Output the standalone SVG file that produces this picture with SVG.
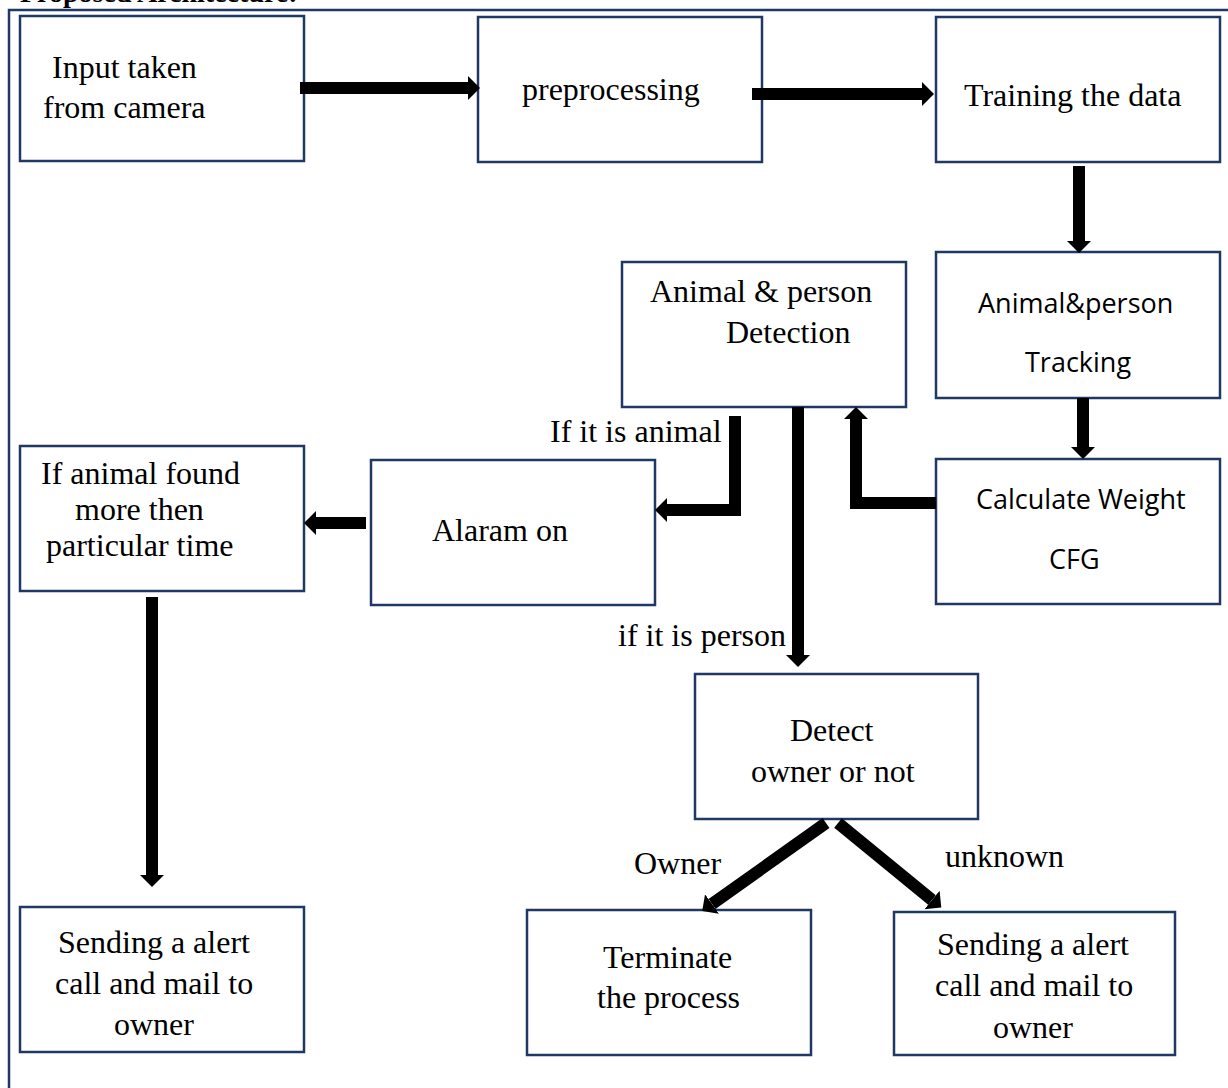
<svg xmlns="http://www.w3.org/2000/svg" width="1228" height="1088" viewBox="0 0 1228 1088">
<style>
.box{fill:#ffffff;stroke:#1f3864;stroke-width:2.5}
.t{font-family:"Liberation Serif","Times New Roman",serif;font-size:32px;fill:#000}
.s{font-family:"Open Sans","Liberation Sans",sans-serif;font-size:27px;fill:#000}
.c{fill:none;stroke:#000;stroke-width:12;stroke-linejoin:miter;stroke-linecap:butt}
</style>
<defs>
<marker id="ah" markerUnits="userSpaceOnUse" markerWidth="14" markerHeight="26" refX="0" refY="12" orient="auto" viewBox="0 0 14 24">
<path d="M0,0 L12,12 L0,24 Z" fill="#000"/>
</marker>
</defs>
<rect width="1228" height="1088" fill="#ffffff"/>
<text x="20" y="2" font-family="Liberation Serif, serif" font-weight="bold" font-size="28">Proposed Architecture:</text>
<path d="M9,1088 V10 H1228" fill="none" stroke="#1f3864" stroke-width="2.5"/>

<g id="n1"><rect class="box" x="20" y="16" width="284" height="145"/><text class="t" x="52" y="78">Input taken</text><text class="t" x="43" y="118">from camera</text></g>
<g id="n2"><rect class="box" x="478" y="17" width="284" height="145"/><text class="t" x="522" y="100">preprocessing</text></g>
<g id="n3"><rect class="box" x="936" y="17" width="284" height="145"/><text class="t" x="964" y="106">Training the data</text></g>
<g id="n4"><rect class="box" x="936" y="252" width="284" height="146"/><text class="s" x="978" y="313">Animal&amp;person</text><text class="s" x="1025" y="372">Tracking</text></g>
<g id="n5"><rect class="box" x="622" y="262" width="284" height="145"/><text class="t" x="650" y="302">Animal &amp; person</text><text class="t" x="726" y="343">Detection</text></g>
<g id="n6"><rect class="box" x="936" y="459" width="284" height="145"/><text class="s" x="976" y="509">Calculate Weight</text><text class="s" x="1049" y="569">CFG</text></g>
<g id="n7"><rect class="box" x="371" y="460" width="284" height="145"/><text class="t" x="432" y="541">Alaram on</text></g>
<g id="n8"><rect class="box" x="20" y="446" width="284" height="145"/><text class="t" x="41" y="484">If animal found</text><text class="t" x="75" y="520">more then</text><text class="t" x="46" y="556">particular time</text></g>
<g id="n9"><rect class="box" x="695" y="674" width="283" height="145"/><text class="t" x="790" y="741">Detect</text><text class="t" x="751" y="782">owner or not</text></g>
<g id="n10"><rect class="box" x="20" y="907" width="284" height="145"/><text class="t" x="58" y="953">Sending a alert</text><text class="t" x="55" y="994">call and mail to</text><text class="t" x="114" y="1035">owner</text></g>
<g id="n11"><rect class="box" x="527" y="910" width="284" height="145"/><text class="t" x="603" y="968">Terminate</text><text class="t" x="597" y="1008">the process</text></g>
<g id="n12"><rect class="box" x="894" y="912" width="281" height="143"/><text class="t" x="937" y="955">Sending a alert</text><text class="t" x="935" y="996">call and mail to</text><text class="t" x="993" y="1038">owner</text></g>

<g id="connectors">
<path class="c" marker-end="url(#ah)" d="M300,88 H468"/>
<path class="c" marker-end="url(#ah)" d="M752,94 H922"/>
<path class="c" marker-end="url(#ah)" d="M1079,166 V241"/>
<path class="c" marker-end="url(#ah)" d="M1083,398 V447"/>
<path class="c" marker-end="url(#ah)" d="M936,503 H856 V419"/>
<path class="c" marker-end="url(#ah)" d="M735,416 V510 H667"/>
<path class="c" marker-end="url(#ah)" d="M798,407 V655"/>
<path class="c" marker-end="url(#ah)" d="M366,523 H316"/>
<path class="c" marker-end="url(#ah)" d="M152,597 V875"/>
<path class="c" marker-end="url(#ah)" d="M826,823 L712,904"/>
<path class="c" marker-end="url(#ah)" d="M838,823 L932,900"/>
<text class="t" x="550" y="442">If it is animal</text>
<text class="t" x="618" y="646">if it is person</text>
<text class="t" x="634" y="874">Owner</text>
<text class="t" x="945" y="867">unknown</text>
</g>
</svg>
